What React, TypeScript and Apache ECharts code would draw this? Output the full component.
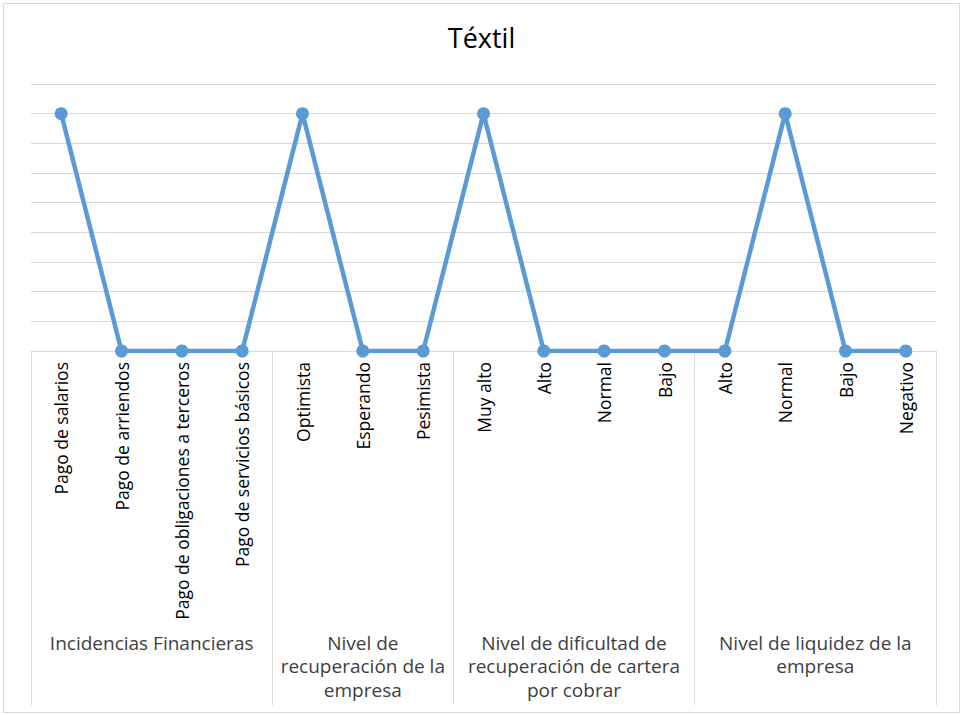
import React, { useEffect, useRef } from "react";
import * as echarts from "echarts";

// Categories along the x axis, grouped by indicator
const categories = [
  "Pago de salarios",
  "Pago de arriendos",
  "Pago de obligaciones a terceros",
  "Pago de servicios básicos",
  "Optimista",
  "Esperando",
  "Pesimista",
  "Muy alto",
  "Alto",
  "Normal",
  "Bajo",
  "Alto",
  "Normal",
  "Bajo",
  "Negativo",
];

const values = [8, 0, 0, 0, 8, 0, 0, 8, 0, 0, 0, 0, 8, 0, 0];

const groupNames = [
  "Incidencias Financieras",
  "Nivel de\nrecuperación de la\nempresa",
  "Nivel de dificultad de\nrecuperación de cartera\npor cobrar",
  "Nivel de liquidez de la\nempresa",
];
const groupSizes = [4, 3, 4, 4];

const yMin = 0;
const yMax = 9;
const yStep = 1;

const gridColor = "#d9d9d9";
const lineColor = "#5b9bd5";

export default function App() {
  const ref = useRef<HTMLDivElement>(null);

  useEffect(() => {
    document.body.style.margin = "0";
    if (!ref.current) return;
    const chart = echarts.init(ref.current, undefined, { renderer: "svg" });

    // group boundaries and centres on a 0..n continuous scale
    const bounds: number[] = [0];
    groupSizes.forEach((s) => bounds.push(bounds[bounds.length - 1] + s));
    const centres = groupSizes.map((s, i) => bounds[i] + s / 2);

    chart.setOption({
      animation: false,
      title: {
        text: "Téxtil",
        left: "center",
        top: 19,
        textStyle: {
          fontFamily: "Open Sans",
          fontSize: 27,
          fontWeight: "normal",
          color: "#000",
        },
      },
      graphic: [
        {
          type: "rect",
          shape: { x: 3.5, y: 3.5, width: 956, height: 709 },
          style: { fill: "none", stroke: gridColor, lineWidth: 1 },
          silent: true,
        },
      ],
      grid: { left: 31, right: 27, top: 84, bottom: 364 },
      xAxis: [
        {
          type: "category",
          data: categories,
          boundaryGap: true,
          axisLine: { lineStyle: { color: gridColor, width: 1 } },
          axisTick: { show: false },
          axisLabel: {
            rotate: 90,
            margin: 11,
            interval: 0,
            fontFamily: "Open Sans",
            fontSize: 17.5,
            color: "#000",
          },
        },
        {
          type: "value",
          min: 0,
          max: categories.length,
          position: "bottom",
          axisLine: { show: false },
          splitLine: { show: false },
          axisTick: {
            show: true,
            customValues: bounds,
            length: 354,
            lineStyle: { color: gridColor, width: 1 },
          },
          axisLabel: {
            customValues: centres,
            margin: 280,
            formatter: (v: number) => {
              const i = centres.findIndex((c) => Math.abs(c - v) < 1e-6);
              return i >= 0 ? groupNames[i] : "";
            },
            fontFamily: "Open Sans",
            fontSize: 19,
            lineHeight: 23.5,
            color: "#404040",
            align: "center",
          },
        },
      ],
      yAxis: {
        type: "value",
        min: yMin,
        max: yMax,
        interval: yStep,
        axisLine: { show: false },
        axisTick: { show: false },
        axisLabel: { show: false },
        splitLine: { lineStyle: { color: gridColor, width: 1 } },
      },
      series: [
        {
          type: "line",
          data: values,
          xAxisIndex: 0,
          symbol: "circle",
          symbolSize: 13,
          lineStyle: { color: lineColor, width: 4.5 },
          itemStyle: { color: lineColor },
        },
      ],
    });

    return () => chart.dispose();
  }, []);

  return <div ref={ref} style={{ width: 963, height: 715 }} />;
}
